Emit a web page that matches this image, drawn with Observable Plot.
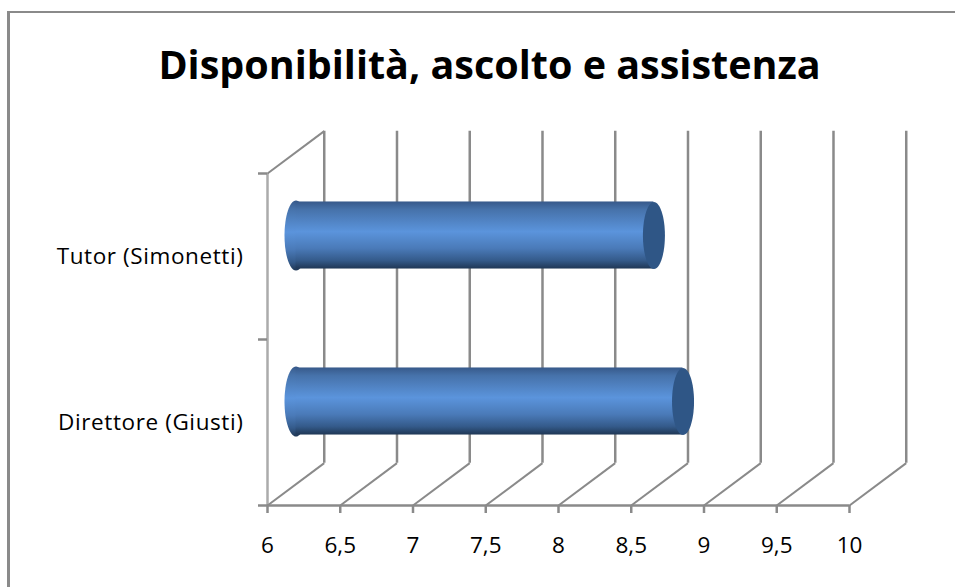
<!DOCTYPE html>
<html>
<head>
<meta charset="utf-8">
<script src="https://cdn.jsdelivr.net/npm/d3@7"></script>
<script src="https://cdn.jsdelivr.net/npm/@observablehq/plot@0.6"></script>
<style>
  html, body { margin: 0; padding: 0; background: #fff; overflow: hidden; }
  #page { position: relative; width: 955px; height: 587px; overflow: hidden; }
  #frame { position: absolute; left: 7px; top: 11px; width: 1000px; height: 700px;
           border-left: 3px solid #8a8a8a; border-top: 2px solid #8a8a8a; }
  #title { position: relative; height: 100px; text-align: center; padding-left: 24px; box-sizing: border-box;
           font: 700 39.5px/128px "Open Sans", sans-serif; color: #000; }
  #chart { position: relative; height: 487px; }
  svg { display: block; }
</style>
</head>
<body>
<div id="page">
  <div id="frame"></div>
  <div id="title">Disponibilità, ascolto e assistenza</div>
  <div id="chart"></div>
</div>
<script>
const categories = ["Direttore (Giusti)", "Tutor (Simonetti)"];
const slots = [0.5, 1.5];
const values = [8.66, 8.46];
const xTicks = [6, 6.5, 7, 7.5, 8, 8.5, 9, 9.5, 10];
const yTicks = [0, 1, 2];
const depthX = 0.39;
const depthY = 0.255;
const barHalf = 0.202;

const bars = categories.map((name, i) => ({ name, slot: slots[i], value: values[i] }));
const GRID = "#8a8a8a";

const ellipse = {
  draw(context, size) {
    const rx = Math.sqrt(size / Math.PI), ry = rx * 3.05, k = 0.5523;
    context.moveTo(rx, 0);
    context.bezierCurveTo(rx, k * ry, k * rx, ry, 0, ry);
    context.bezierCurveTo(-k * rx, ry, -rx, k * ry, -rx, 0);
    context.bezierCurveTo(-rx, -k * ry, -k * rx, -ry, 0, -ry);
    context.bezierCurveTo(k * rx, -ry, rx, -k * ry, rx, 0);
    context.closePath();
  }
};

const gradient = () => {
  const defs = d3.create("svg:defs");
  const g = defs.append("linearGradient").attr("id", "cyl")
    .attr("x1", 0).attr("y1", 0).attr("x2", 0).attr("y2", 1);
  [[0, "#37598a"], [0.12, "#4672aa"], [0.45, "#5b94dc"], [0.7, "#4a7ab8"],
   [0.88, "#345a8a"], [1, "#1f3755"]]
    .forEach(([o, c]) => g.append("stop").attr("offset", o).attr("stop-color", c));
  return defs.node();
};

const shift = { dx: 28.5, dy: -21 };

const plot = Plot.plot({
  width: 955,
  height: 487,
  marginLeft: 267,
  marginRight: 106,
  marginTop: 73,
  marginBottom: 82,
  style: { background: "transparent", overflow: "visible" },
  x: { domain: [6, 10], label: null },
  y: { domain: [0, 2], label: null },
  marks: [
    gradient,
    // floor and side wall
    Plot.ruleX([6], { y1: 0, y2: 2, stroke: "#ababab", strokeWidth: 2.5 }),
    Plot.link(xTicks, { x1: d => d, y1: 0, x2: d => d + depthX, y2: depthY, stroke: GRID, strokeWidth: 2 }),
    Plot.link([6], { x1: d => d, y1: 2, x2: d => d + depthX, y2: 2 + depthY, stroke: GRID, strokeWidth: 2 }),
    // back wall grid
    Plot.ruleX(xTicks, { x: d => d + depthX, y1: depthY, y2: 2 + depthY, stroke: GRID, strokeWidth: 2.5 }),
    Plot.ruleY([0], { x1: 6, x2: 10, stroke: GRID, strokeWidth: 2.5 }),
    // axes
    Plot.axisX({
      ticks: xTicks, tickSize: 8, tickPadding: 24, stroke: GRID, strokeWidth: 2.5,
      tickFormat: d => String(d).replace(".", ","),
      fontSize: 22.5, fill: "#000", label: null
    }),
    Plot.axisY({ ticks: yTicks, tickSize: 9, tickFormat: () => "", stroke: GRID, strokeWidth: 2.5, label: null }),
    // cylinders
    Plot.dot(bars, { x: () => 6, y: "slot", r: 11.5, symbol: ellipse, fill: "url(#cyl)", stroke: "none", ...shift }),
    Plot.rect(bars, { x1: () => 6, x2: "value", y1: d => d.slot - barHalf, y2: d => d.slot + barHalf, fill: "url(#cyl)", ...shift }),
    Plot.dot(bars, { x: "value", y: "slot", r: 11, symbol: ellipse, fill: "#2f5686", stroke: "none", ...shift }),
    // category labels
    Plot.text(bars, { x: () => 6, y: "slot", text: "name", textAnchor: "end", dx: -24, fontSize: 22.5, fill: "#000" })
  ]
});
plot.style.fontFamily = '"Open Sans", sans-serif';
plot.querySelectorAll('text').forEach(t => { if (t.textContent.includes("(")) t.style.letterSpacing = "0.6px"; });
document.getElementById("chart").appendChild(plot);
</script>
</body>
</html>
